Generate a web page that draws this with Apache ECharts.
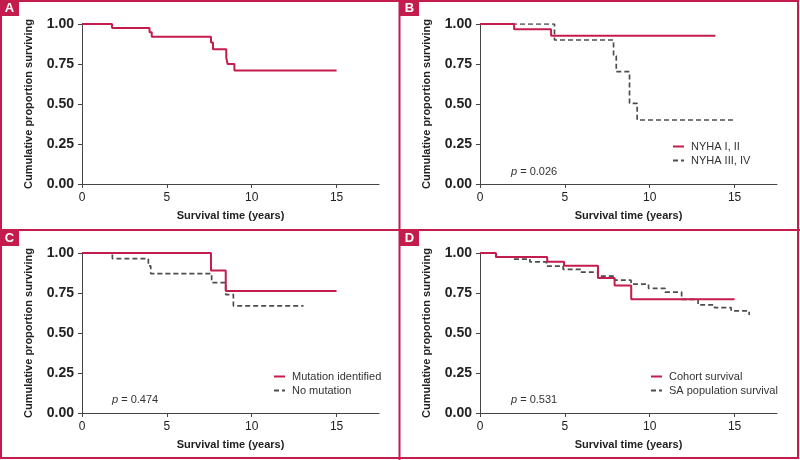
<!DOCTYPE html>
<html>
<head>
<meta charset="utf-8">
<script src="https://cdn.jsdelivr.net/npm/echarts@6/dist/echarts.min.js"></script>
<style>
html,body{margin:0;padding:0;background:#fff;}
#chart{width:800px;height:460px;}
</style>
</head>
<body>
<div id="chart"></div>
<script>
// ---- data (Kaplan-Meier step points: time in years, cumulative proportion surviving) ----
const yTicks = [0, 0.25, 0.5, 0.75, 1];
const xTicks = [0, 5, 10, 15];

const timeA = [0, 1.77, 3.98, 4.11, 7.6, 7.72, 8.5, 8.58, 8.98, 15];
const survA = [1, 0.975, 0.948, 0.921, 0.884, 0.842, 0.79, 0.75, 0.709, 0.709];

const timeB1 = [0, 2.01, 4.19, 13.87];
const survB1 = [1, 0.967, 0.927, 0.927];
const timeB2 = [0, 4.39, 7.87, 8.03, 8.81, 9.26, 14.94];
const survB2 = [1, 0.90, 0.80, 0.702, 0.504, 0.40, 0.40];

const timeC1 = [0, 7.6, 8.47, 15];
const survC1 = [1, 0.89, 0.763, 0.763];
const timeC2 = [0, 1.79, 3.91, 4.05, 7.64, 8.47, 8.92, 13.05];
const survC2 = [1, 0.965, 0.919, 0.871, 0.815, 0.74, 0.67, 0.67];

const timeD1 = [0, 0.94, 3.96, 4.95, 6.95, 7.93, 8.91, 15];
const survD1 = [1, 0.975, 0.946, 0.92, 0.843, 0.797, 0.711, 0.711];
const timeD2 = [0, 0.94, 1.92, 2.94, 3.92, 4.9, 5.93, 6.95, 7.93, 8.9, 9.93, 10.9, 11.88, 12.85, 13.82, 14.8, 15.86];
const survD2 = [1, 0.975, 0.962, 0.944, 0.918, 0.898, 0.88, 0.855, 0.83, 0.806, 0.779, 0.756, 0.71, 0.676, 0.658, 0.638, 0.612];

const namesB = ['NYHA I, II', 'NYHA III, IV'];
const namesC = ['Mutation identified', 'No mutation'];
const namesD = ['Cohort survival', 'SA population survival'];
const pValues = ['0.026', '0.474', '0.531'];
const panelLetters = ['A', 'B', 'C', 'D'];
const xTitle = 'Survival time (years)';
const yTitle = 'Cumulative proportion surviving';

// ---- styles ----
const RED = '#c41c4c';
const GRAY = '#4d4d4d';
const FONT = 'Liberation Sans, Arial, sans-serif';

function zip(t, s) { return t.map((v, i) => [v, s[i]]); }

const grids = [
  {left: 82, top: 24, width: 297, height: 160},
  {left: 480, top: 24, width: 297, height: 160},
  {left: 82, top: 253, width: 297, height: 160},
  {left: 480, top: 253, width: 297, height: 160}
];

const xAxes = grids.map((g, i) => ({
  type: 'value', gridIndex: i, min: 0, max: 17.5, interval: 5,
  name: xTitle, nameLocation: 'middle', nameGap: 26,
  nameTextStyle: {fontFamily: FONT, fontSize: 11, fontWeight: 'bold', color: '#222'},
  axisLine: {show: true, lineStyle: {color: '#444', width: 1}},
  axisTick: {show: true, length: 4, lineStyle: {color: '#444'}, customValues: xTicks},
  axisLabel: {fontFamily: FONT, fontSize: 12, color: '#222', margin: 8, customValues: xTicks},
  splitLine: {show: false}
}));

const yAxes = grids.map((g, i) => ({
  type: 'value', gridIndex: i, min: 0, max: 1, interval: 0.25,
  name: yTitle, nameLocation: 'middle', nameGap: 48,
  nameTextStyle: {fontFamily: FONT, fontSize: 11, fontWeight: 'bold', color: '#222'},
  axisLine: {show: true, lineStyle: {color: '#444', width: 1}},
  axisTick: {show: true, length: 4, lineStyle: {color: '#444'}, customValues: yTicks},
  axisLabel: {fontFamily: FONT, fontSize: 14, fontWeight: 'bold', color: '#222', margin: 8,
    customValues: yTicks, formatter: v => v.toFixed(2)},
  splitLine: {show: false}
}));

function solid(name, gi, data) {
  return {type: 'line', name, xAxisIndex: gi, yAxisIndex: gi, data, step: 'end',
    symbol: 'none', lineStyle: {color: RED, width: 2}, itemStyle: {color: RED}, z: 3};
}
function dashed(name, gi, data) {
  return {type: 'line', name, xAxisIndex: gi, yAxisIndex: gi, data, step: 'end',
    symbol: 'none', lineStyle: {color: GRAY, width: 1.7, type: [5, 3]}, itemStyle: {color: GRAY}, z: 2};
}

const series = [
  solid('Overall', 0, zip(timeA, survA)),
  dashed(namesB[1], 1, zip(timeB2, survB2)),
  solid(namesB[0], 1, zip(timeB1, survB1)),
  dashed(namesC[1], 2, zip(timeC2, survC2)),
  solid(namesC[0], 2, zip(timeC1, survC1)),
  dashed(namesD[1], 3, zip(timeD2, survD2)),
  solid(namesD[0], 3, zip(timeD1, survD1))
];

function legend(names, left, top) {
  return {data: names, orient: 'vertical', left, top, padding: 0, itemWidth: 11, itemHeight: 12, itemGap: 3,
    itemStyle: {opacity: 0},
    textStyle: {fontFamily: FONT, fontSize: 11, color: '#333', padding: [0, 0, 0, 2]},
    selectedMode: false};
}

function pTitle(p, left, top) {
  return {text: '{i|p} = ' + p, left, top, padding: 0,
    textStyle: {fontFamily: FONT, fontSize: 11, fontWeight: 'normal', color: '#333',
      rich: {i: {fontFamily: FONT, fontSize: 11, fontStyle: 'italic', color: '#333'}}}};
}

// decorative frame and panel letters
const B = 2;
const graphic = [
  {type: 'rect', shape: {x: 1, y: 1, width: 797, height: 457}, style: {fill: null, stroke: RED, lineWidth: B}},
  {type: 'line', shape: {x1: 399.5, y1: 0, x2: 399.5, y2: 460}, style: {stroke: RED, lineWidth: B}},
  {type: 'line', shape: {x1: 0, y1: 230, x2: 800, y2: 230}, style: {stroke: RED, lineWidth: B}}
];
const letterPos = [[0, 0], [400, 0], [0, 230], [400, 230]];
panelLetters.forEach((L, i) => {
  graphic.push({type: 'rect', shape: {x: letterPos[i][0], y: letterPos[i][1], width: 19, height: 16}, style: {fill: RED}});
  graphic.push({type: 'text', x: letterPos[i][0] + 9.5, y: letterPos[i][1] + 8.5,
    style: {text: L, fill: '#fff', font: 'bold 13px ' + FONT, textAlign: 'center', textVerticalAlign: 'middle'}});
});

const chart = echarts.init(document.getElementById('chart'), null, {renderer: 'canvas'});
chart.setOption({
  animation: false,
  backgroundColor: '#fff',
  grid: grids,
  xAxis: xAxes,
  yAxis: yAxes,
  series,
  legend: [legend(namesB, 672, 141), legend(namesC, 273, 371), legend(namesD, 650, 371)],
  title: [pTitle(pValues[0], 511, 166), pTitle(pValues[1], 112, 394), pTitle(pValues[2], 511, 394)],
  graphic
});
</script>
</body>
</html>
